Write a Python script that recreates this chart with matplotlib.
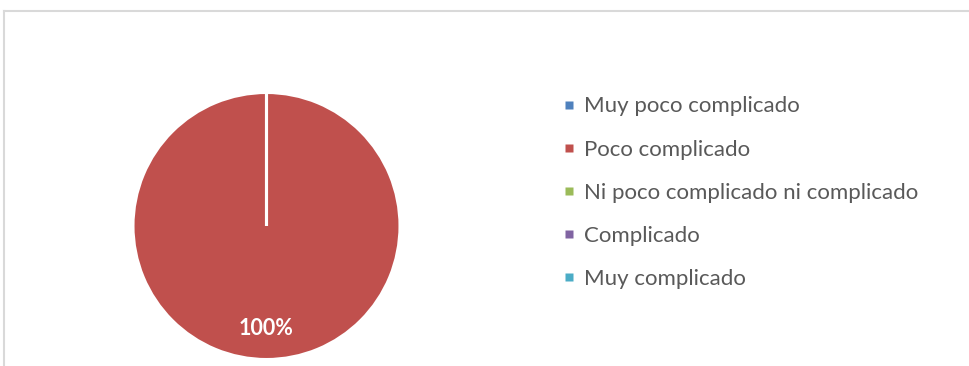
import matplotlib
matplotlib.use("Agg")
import matplotlib.pyplot as plt
from matplotlib.lines import Line2D

# Survey answers and their share of responses (%)
categories = [
    "Muy poco complicado",
    "Poco complicado",
    "Ni poco complicado ni complicado",
    "Complicado",
    "Muy complicado",
]
shares = [0, 100, 0, 0, 0]
colors = ["#4F81BD", "#C0504D", "#9BBB59", "#8064A2", "#4BACC6"]

W, H = 970, 366
fig = plt.figure(figsize=(W / 100, H / 100), dpi=100)
fig.patch.set_facecolor("white")

# chart area border (open to the right and bottom)
frame_col = "#D9D9D9"
fig.add_artist(Line2D([4.5 / W, 4.5 / W], [0, 1 - 10.5 / H], transform=fig.transFigure,
                      color=frame_col, lw=1.5))
fig.add_artist(Line2D([4.5 / W, 1], [1 - 10.5 / H, 1 - 10.5 / H], transform=fig.transFigure,
                      color=frame_col, lw=1.5))

# pie placed by its centre and radius in pixels
cx, cy, r = 266.5, 226.0, 133.5
ax = fig.add_axes([(cx - r) / W, (H - cy - r) / H, 2 * r / W, 2 * r / H])


def pct_label(p):
    return f"{p:.0f}%" if p > 0 else ""


wedges, _, autotexts = ax.pie(
    shares,
    colors=colors,
    startangle=90,
    counterclock=False,
    autopct=pct_label,
    pctdistance=0.77,
    wedgeprops=dict(edgecolor="white", linewidth=2.2),
    textprops=dict(color="white", fontsize=15.5, fontweight="bold", family="Lato"),
)
ax.set_xlim(-1.0, 1.0)
ax.set_ylim(-1.0, 1.0)
ax.set_aspect("equal")
ax.axis("off")

handles = [Line2D([], [], marker="s", linestyle="none", markersize=5.2,
                  markerfacecolor=c, markeredgecolor="none") for c in colors]
leg = fig.legend(
    handles,
    categories,
    loc="upper left",
    bbox_to_anchor=(562 / W, 1 - 96.5 / H),
    frameon=False,
    prop=dict(family="Lato", size=16),
    handlelength=0.6,
    handletextpad=0.4,
    labelspacing=1.04,
    borderpad=0,
    borderaxespad=0,
)
for t in leg.get_texts():
    t.set_color("#595959")

fig.savefig("out.png", dpi=100, facecolor="white")
